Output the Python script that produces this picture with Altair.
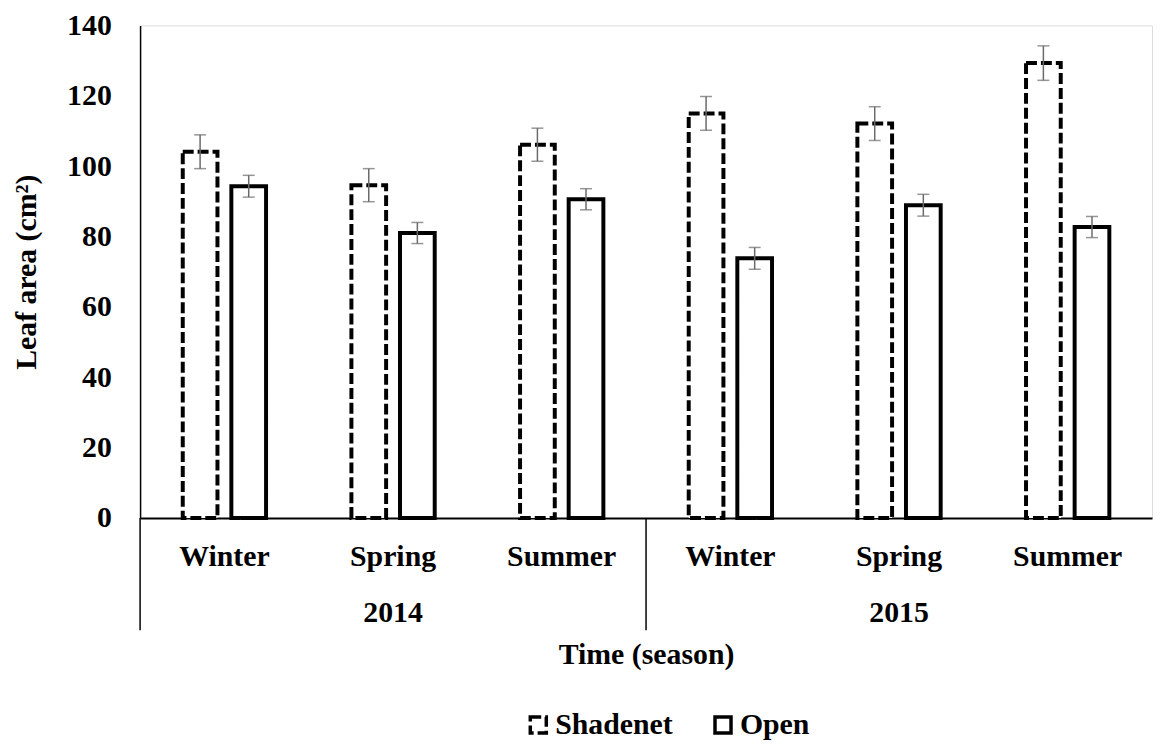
import altair as alt
import pandas as pd

years = ["2014", "2014", "2014", "2015", "2015", "2015"]
seasons = ["Winter", "Spring", "Summer", "Winter", "Spring", "Summer"]
series = ["Shadenet", "Open"]
shadenet = [104.1, 94.6, 106.1, 115.0, 112.1, 129.3]
shadenet_err = [4.8, 4.7, 4.7, 4.8, 4.8, 4.9]
open_vals = [94.3, 81.0, 90.6, 73.8, 88.9, 82.7]
open_err = [3.1, 3.0, 3.0, 3.1, 3.1, 3.0]
year_labels = ["2014", "2015"]
y_ticks = [0, 20, 40, 60, 80, 100, 120, 140]

cats = [f"{y} {s}" for y, s in zip(years, seasons)]

rows = []
for i, c in enumerate(cats):
    rows.append(dict(cat=c, series="Shadenet", value=shadenet[i],
                     lo=shadenet[i] - shadenet_err[i], hi=shadenet[i] + shadenet_err[i]))
    rows.append(dict(cat=c, series="Open", value=open_vals[i],
                     lo=open_vals[i] - open_err[i], hi=open_vals[i] + open_err[i]))
df = pd.DataFrame(rows)

year_df = pd.DataFrame({"cat": [f"{y} Spring" for y in year_labels], "year": year_labels})
sep_df = pd.DataFrame({"cat": [f"{y} Winter" for y in year_labels]})

FONT = "Liberation Serif"
FS = 30
ERR_COLOR = "#6a6a6a"

xscale = alt.Scale(domain=cats, paddingInner=0, paddingOuter=0)
xaxis = alt.Axis(
    labelExpr="split(datum.label, ' ')[1]", labelAngle=0, ticks=False,
    domainColor="black", domainWidth=2, labelFont=FONT, labelFontSize=FS,
    labelFontWeight="bold", labelColor="black", labelPadding=24,
    title="Time (season)", titleFont=FONT, titleFontSize=FS, titleFontWeight="bold",
    titleColor="black", titleY=138, titleBaseline="middle",
)
xenc = alt.X("cat:N", scale=xscale, axis=xaxis)
yscale = alt.Scale(domain=[0, 140], nice=False)
yaxis = alt.Axis(
    values=y_ticks, ticks=False, grid=False, domainColor="black", domainWidth=1.5,
    labelFont=FONT, labelFontSize=FS, labelFontWeight="bold", labelColor="black",
    labelPadding=29, title="Leaf area (cm²)", titleFont=FONT, titleFontSize=FS,
    titleFontWeight="bold", titleColor="black", titlePadding=25,
)
xoff = alt.XOffset("series:N", scale=alt.Scale(domain=series, paddingInner=0.286, paddingOuter=0.878))

legend = alt.Legend(
    title=None, orient="none", legendX=386, legendY=689, direction="horizontal",
    symbolType="square", symbolSize=260, symbolStrokeColor="black",
    symbolFillColor="white", symbolStrokeWidth=3.5, labelFont=FONT,
    labelFontSize=FS, labelFontWeight="bold", labelColor="black",
    labelOffset=2, columnPadding=34,
)

bars = alt.Chart(df).mark_bar(fill="white", strokeWidth=4).encode(
    x=xenc,
    xOffset=xoff,
    y=alt.Y("value:Q", scale=yscale, axis=yaxis),
    stroke=alt.Stroke("series:N", scale=alt.Scale(domain=series, range=["black", "black"]),
                      legend=legend),
    strokeDash=alt.StrokeDash(
        "series:N",
        scale=alt.Scale(domain=series, range=[[11, 4], [1, 0]]),
        legend=legend,
    ),
)

err = alt.Chart(df).mark_rule(color=ERR_COLOR, strokeWidth=1.5).encode(
    x=xenc, xOffset=xoff, y=alt.Y("lo:Q", scale=yscale), y2="hi:Q"
)
cap_lo = alt.Chart(df).mark_tick(color=ERR_COLOR, thickness=1.5, size=12).encode(
    x=xenc, xOffset=xoff, y=alt.Y("lo:Q", scale=yscale)
)
cap_hi = alt.Chart(df).mark_tick(color=ERR_COLOR, thickness=1.5, size=12).encode(
    x=xenc, xOffset=xoff, y=alt.Y("hi:Q", scale=yscale)
)

year_text = alt.Chart(year_df).mark_text(
    font=FONT, fontSize=FS, fontWeight="bold", baseline="middle", color="black"
).encode(x=xenc, y=alt.value(592), text="year:N")

seps = alt.Chart(sep_df).mark_rule(color="black", strokeWidth=1.5).encode(
    x=alt.X("cat:N", scale=xscale, axis=xaxis, bandPosition=0),
    y=alt.value(496), y2=alt.value(609),
)

chart = alt.layer(bars, err, cap_lo, cap_hi, year_text, seps).properties(
    width=1019, height=496,
    autosize=alt.AutoSizeParams(type="none"),
    padding={"left": 133, "top": 15, "right": 2, "bottom": 222},
).configure_view(stroke=None).configure(font=FONT)

chart.save("out.html", embed_options={"renderer": "svg", "actions": False})
